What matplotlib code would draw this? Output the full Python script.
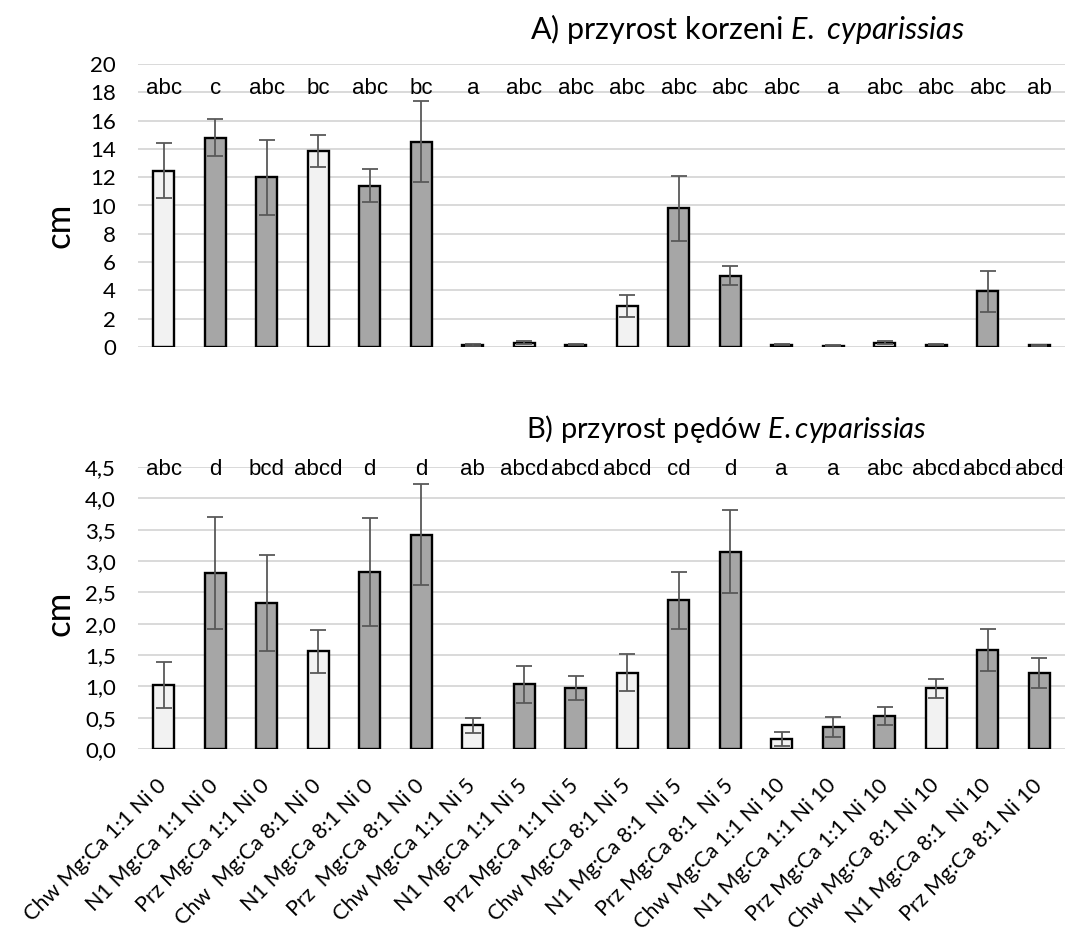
import numpy as np
import matplotlib
matplotlib.use("Agg")
import matplotlib.pyplot as plt
from matplotlib.ticker import FuncFormatter

plt.rcParams['font.family'] = ['Lato', 'DejaVu Sans']
plt.rcParams['mathtext.fontset'] = 'custom'
plt.rcParams['mathtext.rm'] = 'Lato'
plt.rcParams['mathtext.it'] = 'Lato:italic'

# treatments (site, Mg:Ca ratio, Ni dose)
labels = ["Chw Mg:Ca 1:1 Ni 0", "N1 Mg:Ca 1:1 Ni 0", "Prz Mg:Ca 1:1 Ni 0",
          "Chw  Mg:Ca 8:1 Ni 0", "N1 Mg:Ca 8:1 Ni 0", "Prz  Mg:Ca 8:1 Ni 0",
          "Chw Mg:Ca 1:1 Ni 5", "N1 Mg:Ca 1:1 Ni 5", "Prz Mg:Ca 1:1 Ni 5",
          "Chw Mg:Ca 8:1 Ni 5", "N1 Mg:Ca 8:1  Ni 5", "Prz Mg:Ca 8:1  Ni 5",
          "Chw Mg:Ca 1:1 Ni 10", "N1 Mg:Ca 1:1 Ni 10", "Prz Mg:Ca 1:1 Ni 10",
          "Chw Mg:Ca 8:1 Ni 10", "N1 Mg:Ca 8:1  Ni 10", "Prz Mg:Ca 8:1 Ni 10"]

# A) root growth
root_mean = [12.45, 14.8, 12.0, 13.85, 11.4, 14.5, 0.15, 0.3, 0.15,
             2.9, 9.8, 5.05, 0.15, 0.1, 0.3, 0.17, 3.95, 0.12]
root_err = [1.95, 1.3, 2.65, 1.1, 1.15, 2.85, 0.05, 0.12, 0.04,
            0.75, 2.3, 0.7, 0.03, 0.02, 0.1, 0.04, 1.45, 0.02]
root_letters = ["abc", "c", "abc", "bc", "abc", "bc", "a", "abc", "abc",
                "abc", "abc", "abc", "abc", "a", "abc", "abc", "abc", "ab"]
root_light = [0, 3, 7, 9, 14]

# B) shoot growth
shoot_mean = [1.02, 2.81, 2.33, 1.56, 2.83, 3.42, 0.38, 1.03, 0.97,
              1.22, 2.37, 3.15, 0.16, 0.35, 0.53, 0.97, 1.58, 1.21]
shoot_err = [0.37, 0.89, 0.76, 0.34, 0.86, 0.81, 0.12, 0.30, 0.19,
             0.29, 0.45, 0.66, 0.11, 0.16, 0.14, 0.15, 0.33, 0.24]
shoot_letters = ["abc", "d", "bcd", "abcd", "d", "d", "ab", "abcd", "abcd",
                 "abcd", "cd", "d", "a", "a", "abc", "abcd", "abcd", "abcd"]
shoot_light = [0, 3, 6, 9, 12, 15]

W, H = 1077, 939
fig = plt.figure(figsize=(W / 100, H / 100), dpi=100)
x = np.arange(len(labels))


def panel(rect, mean, err, light, letters, ymax, step, letter_y, fmt, label_y):
    ax = fig.add_axes(rect)
    colors = ['#F2F2F2' if i in light else '#A6A6A6' for i in x]
    ax.bar(x, mean, width=0.4, color=colors, edgecolor='black', linewidth=1.7, zorder=2)
    ax.errorbar(x, mean, yerr=err, fmt='none', ecolor='#595959', elinewidth=1.3,
                capsize=6, capthick=1.3, zorder=3)
    for xi, t in zip(x, letters):
        ax.text(xi, letter_y, t, ha='center', va='baseline', fontsize=16,
                family='Liberation Sans', zorder=4)
    ax.set_xlim(-0.5, len(labels) - 0.5)
    ax.set_ylim(0, ymax)
    ax.set_yticks(np.arange(0, ymax + step / 2, step))
    ax.yaxis.set_major_formatter(FuncFormatter(fmt))
    ax.grid(axis='y', color='#D9D9D9', linewidth=1.4, zorder=0)
    ax.set_axisbelow(True)
    for s in ax.spines.values():
        s.set_visible(False)
    ax.tick_params(axis='both', length=0, labelsize=16, pad=16)
    ax.set_ylabel('cm', fontsize=25)
    ax.yaxis.set_label_coords(-0.067, label_y)
    return ax


left = 138 / W
width = (1065 - 138) / W

ax1 = panel([left, 1 - 347 / H, width, (347 - 64) / H], root_mean, root_err,
            root_light, root_letters, 20, 2, 17.9, lambda v, p: f"{v:.0f}", 0.43)
ax1.set_xticks(x)
ax1.set_xticklabels([])

ax2 = panel([left, 1 - 749 / H, width, (749 - 467) / H], shoot_mean, shoot_err,
            shoot_light, shoot_letters, 4.5, 0.5, 4.37,
            lambda v, p: f"{v:.1f}".replace('.', ','), 0.48)
ax2.set_xticks(x)
ax2.set_xticklabels(labels, rotation=45, ha='right', va='center',
                    rotation_mode='anchor', fontsize=15.5)
ax2.tick_params(axis='x', pad=24)

fig.text(530 / W, 1 - 39 / H, r"A) przyrost korzeni $E.$ $cyparissias$",
         fontsize=22, va='baseline', ha='left')
fig.text(526 / W, 1 - 438 / H, r"B) przyrost pędów $E.cyparissias$",
         fontsize=21, va='baseline', ha='left')

fig.savefig('out.png', dpi=100)
